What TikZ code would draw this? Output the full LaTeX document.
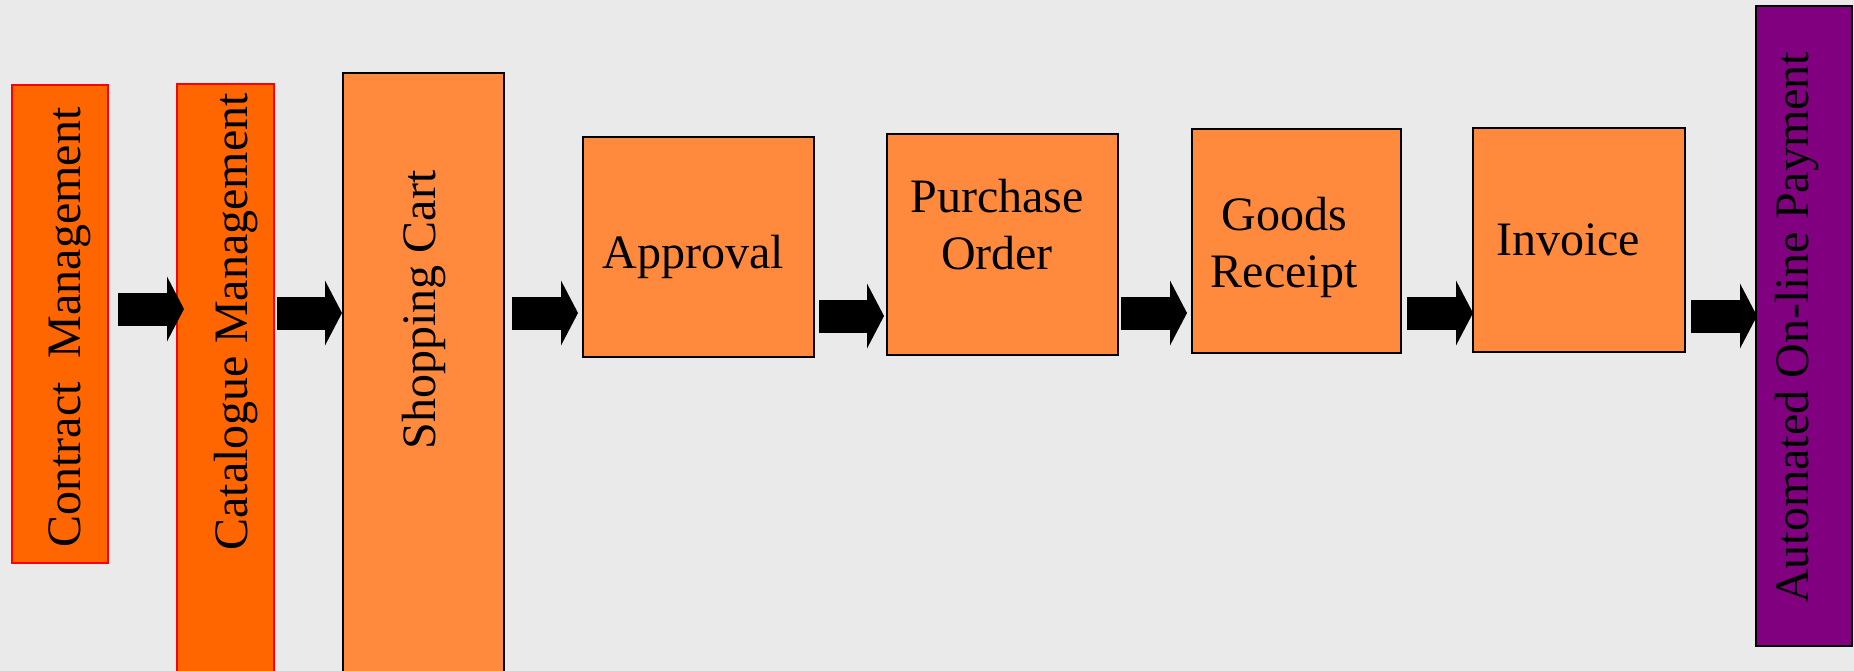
\documentclass[tikz,border=0pt]{standalone}
\usepackage{fontspec}
\setmainfont{Liberation Serif}
\usetikzlibrary{arrows.meta,calc}
\definecolor{slidegray}{HTML}{EAEAEA}
\definecolor{deeporange}{HTML}{FF6600}
\definecolor{softorange}{HTML}{FF8A3D}
\definecolor{paypurple}{HTML}{800080}

\begin{document}
\begin{tikzpicture}[
 x=1pt,y=-1pt,
 box/.style={draw,line width=2pt,inner sep=0pt,outer sep=0pt},
 early/.style={box,draw=red,fill=deeporange},
 stage/.style={box,draw=black,fill=softorange},
 pay/.style={box,draw=black,fill=paypurple},
 caption/.style={inner sep=0pt,anchor=base,align=center,font=\fontsize{48}{57}\selectfont},
 upright/.style={caption,rotate=90},
 flow/.style={line width=33pt,-{Triangle[length=17pt,width=65pt,line width'=0pt]}}
]
\path[clip] (0,0) rectangle (1854,671);
\fill[slidegray] (0,0) rectangle (1854,671);

\node[early,minimum width=96pt,minimum height=478pt] (contract) at (60,324) {};
\node[early,minimum width=97pt,minimum height=616pt] (catalogue) at (225.5,392) {};
\node[stage,minimum width=161pt,minimum height=627pt] (cart) at (423.5,386.5) {};
\node[stage,minimum width=231pt,minimum height=220pt] (approval) at (698.5,247) {};
\node[stage,minimum width=231pt,minimum height=221pt] (order) at (1002.5,244.5) {};
\node[stage,minimum width=209pt,minimum height=224pt] (goods) at (1296.5,241) {};
\node[stage,minimum width=212pt,minimum height=224pt] (invoice) at (1579,240) {};
\node[pay,minimum width=96pt,minimum height=640pt] (payment) at (1804,326) {};

% two-line captions sit on the baseline of their last line
\node[upright] (contract-txt) at (80,327.5) {Contract~~Management};
\node[upright] (catalogue-txt) at (247,322) {Catalogue Management};
\node[upright] (cart-txt) at (435,310) {Shopping Cart};
\node[caption] (approval-txt) at (693,268) {Approval};
\node[caption] (order-txt) at (997,269) {Purchase\\Order};
\node[caption] (goods-txt) at (1284,287) {Goods\\Receipt};
\node[caption] (invoice-txt) at (1568,255) {Invoice};
\node[upright] (payment-txt) at (1808,328) {Automated On-line Payment};

% block arrows between the stages
\coordinate (lane) at (0,313);
\draw[flow] ($(contract.east |- lane)+(10,-4)$) -- ($(catalogue.west |- lane)+(7,-4)$);
\draw[flow] ($(catalogue.east |- lane)+(3,0)$) -- ($(cart.west |- lane)+(-1,0)$);
\draw[flow] ($(cart.east |- lane)+(8,0)$) -- ($(approval.west |- lane)+(-5,0)$);
\draw[flow] ($(approval.east |- lane)+(5,3)$) -- ($(order.west |- lane)+(-3,3)$);
\draw[flow] ($(order.east |- lane)+(3,0)$) -- ($(goods.west |- lane)+(-5,0)$);
\draw[flow] ($(goods.east |- lane)+(6,0)$) -- (invoice.west |- lane);
\draw[flow] ($(invoice.east |- lane)+(6,3)$) -- ($(payment.west |- lane)+(1,3)$);
\end{tikzpicture}
\end{document}
